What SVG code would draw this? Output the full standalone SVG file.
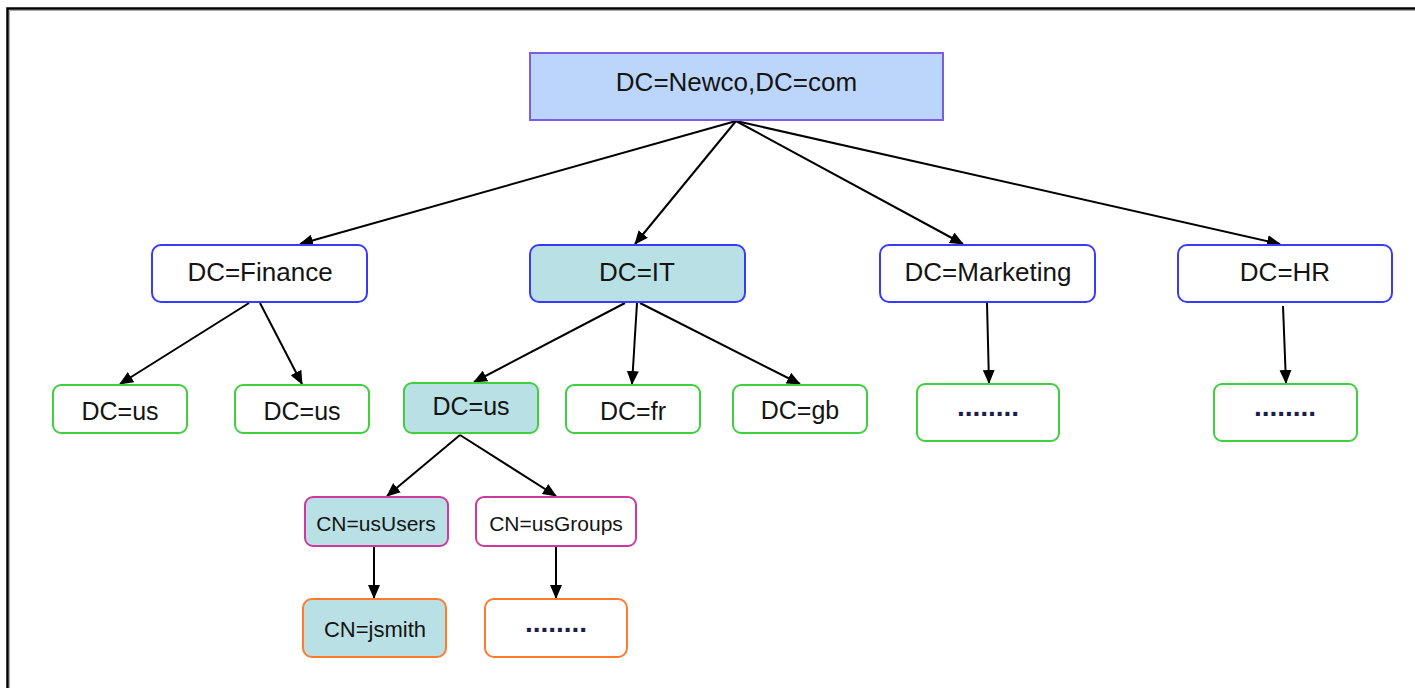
<svg xmlns="http://www.w3.org/2000/svg" width="1415" height="688" viewBox="0 0 1415 688">
<style>
text{font-family:"Liberation Sans",Arial,sans-serif;fill:#141414;text-anchor:middle;dominant-baseline:central}
.l1{font-size:26px}
.l3{font-size:25px}
.l4{font-size:21px}
.dots{font-size:28px;font-weight:bold;fill:#1a1f4a}
.blue{fill:#fff;stroke:#3a3aff;stroke-width:2}
.green{fill:#fff;stroke:#3fcf3f;stroke-width:2}
.mag{fill:#fff;stroke:#cc3a9e;stroke-width:2}
.org{fill:#fff;stroke:#ff7a2a;stroke-width:2}
.teal{fill:#b9e0e4}
.edge{stroke:#000;stroke-width:2;fill:none;marker-end:url(#ah)}
</style>
<defs>
<marker id="ah" markerUnits="userSpaceOnUse" markerWidth="14" markerHeight="12" refX="13" refY="6" orient="auto">
<path d="M0,0 L14,6 L0,12 Z" fill="#000"/>
</marker>
</defs>
<rect width="1415" height="688" fill="#fff"/>
<path d="M7.5,688 V8.5 H1415" fill="none" stroke="#000" stroke-width="2.5"/>
<path d="M9.5,688 V10.5 H1415" fill="none" stroke="#aaa" stroke-width="1"/>

<g id="connectors">
<line class="edge" x1="736" y1="121" x2="300" y2="244"/>
<line class="edge" x1="736" y1="121" x2="635" y2="244"/>
<line class="edge" x1="736" y1="121" x2="963" y2="244"/>
<line class="edge" x1="736" y1="121" x2="1280" y2="244"/>
<line class="edge" x1="249" y1="303" x2="120" y2="384"/>
<line class="edge" x1="260" y1="303" x2="302" y2="384"/>
<line class="edge" x1="625" y1="303" x2="474" y2="382"/>
<line class="edge" x1="637" y1="303" x2="632" y2="384"/>
<line class="edge" x1="640" y1="303" x2="800" y2="384"/>
<line class="edge" x1="987" y1="303" x2="989" y2="383"/>
<line class="edge" x1="1283" y1="306" x2="1286" y2="383"/>
<line class="edge" x1="460" y1="435" x2="387" y2="496"/>
<line class="edge" x1="460" y1="435" x2="556" y2="496"/>
<line class="edge" x1="374" y1="547" x2="374" y2="598"/>
<line class="edge" x1="556" y1="547" x2="556" y2="598"/>
</g>

<g id="root">
<rect x="530" y="53" width="413" height="67" fill="#bcd5fb" stroke="#7a5fe6" stroke-width="2"/>
<text class="l1" x="736.5" y="82">DC=Newco,DC=com</text>
</g>
<g id="finance">
<rect class="blue" x="152" y="245" width="215" height="57" rx="9"/>
<text class="l1" x="260" y="272">DC=Finance</text>
</g>
<g id="it">
<rect class="blue teal" x="530" y="245" width="215" height="57" rx="9" style="fill:#b9e0e4"/>
<text class="l1" x="637" y="272">DC=IT</text>
</g>
<g id="marketing">
<rect class="blue" x="880" y="245" width="215" height="57" rx="9"/>
<text class="l1" x="988" y="272">DC=Marketing</text>
</g>
<g id="hr">
<rect class="blue" x="1178" y="245" width="214" height="57" rx="9"/>
<text class="l1" x="1285" y="272">DC=HR</text>
</g>

<g id="finance-us1">
<rect class="green" x="53" y="385" width="134" height="48" rx="8"/>
<text class="l3" x="120" y="411">DC=us</text>
</g>
<g id="finance-us2">
<rect class="green" x="235" y="385" width="134" height="48" rx="8"/>
<text class="l3" x="302" y="411">DC=us</text>
</g>
<g id="it-us">
<rect class="green" x="404" y="383" width="134" height="50" rx="8" style="fill:#b9e0e4"/>
<text class="l3" x="471" y="406">DC=us</text>
</g>
<g id="it-fr">
<rect class="green" x="566" y="385" width="134" height="48" rx="8"/>
<text class="l3" x="633" y="411">DC=fr</text>
</g>
<g id="it-gb">
<rect class="green" x="733" y="385" width="134" height="48" rx="8"/>
<text class="l3" x="800" y="410">DC=gb</text>
</g>
<g id="marketing-more">
<rect class="green" x="917" y="384" width="142" height="57" rx="8"/>
<text class="dots" x="988" y="406">........</text>
</g>
<g id="hr-more">
<rect class="green" x="1214" y="384" width="143" height="57" rx="8"/>
<text class="dots" x="1285" y="406">........</text>
</g>

<g id="usUsers">
<rect class="mag" x="305" y="497" width="143" height="49" rx="8" style="fill:#b9e0e4"/>
<text class="l4" x="376" y="523">CN=usUsers</text>
</g>
<g id="usGroups">
<rect class="mag" x="476" y="497" width="160" height="49" rx="8"/>
<text class="l4" x="556" y="523">CN=usGroups</text>
</g>
<g id="jsmith">
<rect class="org" x="303" y="599" width="143" height="58" rx="9" style="fill:#b9e0e4"/>
<text class="l4" x="375" y="629" style="font-size:22px">CN=jsmith</text>
</g>
<g id="usGroups-more">
<rect class="org" x="485" y="599" width="142" height="58" rx="9"/>
<text class="dots" x="556" y="622">........</text>
</g>
</svg>
